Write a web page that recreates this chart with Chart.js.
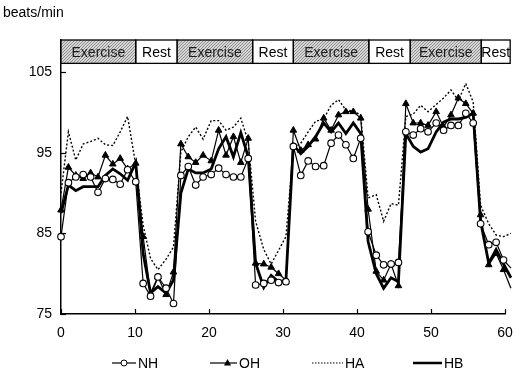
<!DOCTYPE html>
<html><head><meta charset="utf-8">
<script src="https://cdn.jsdelivr.net/npm/chart.js@4"></script>
<style>html,body{margin:0;padding:0;background:#fff}#wrap{width:529px;height:379px;position:relative}</style>
</head><body><div id="wrap"><canvas id="c" width="529" height="379"></canvas></div>
<script>
// ---- data ----
const minutes = [0,1,2,3,4,5,6,7,8,9,10.1,11.1,12.1,13.1,14.2,15.2,16.2,17.2,18.2,19.2,20.3,21.3,22.3,23.3,24.3,25.3,26.3,27.4,28.4,29.4,30.4,31.4,32.4,33.4,34.4,35.5,36.5,37.5,38.5,39.5,40.5,41.5,42.6,43.6,44.6,45.6,46.6,47.6,48.6,49.6,50.7,51.7,52.7,53.7,54.7,55.7,56.7,57.8,58.8,59.8,60.8];
const NH = [84.6,91.3,92.0,92.3,92.0,90.1,91.8,91.7,91.1,92.9,91.4,
  78.8,77.2,79.6,78.2,76.3,
  92.2,93.3,91.0,92.0,92.3,93.1,92.3,92.0,92.0,94.3,
  78.6,78.8,79.2,78.9,79.0,
  95.8,92.2,94.0,93.3,93.4,96.2,97.2,96.0,94.3,96.8,
  85.2,82.3,81.1,81.2,81.4,
  97.6,97.2,98.0,97.6,98.7,97.8,98.4,98.4,99.9,98.7,
  86.2,83.6,83.9,81.7,80.7];
const OH = [87.9,93.2,92.2,91.8,92.5,92.0,94.7,93.6,94.3,93.0,93.7,
  84.6,77.6,79.6,77.4,80.2,
  96.1,94.5,93.8,94.7,94.0,97.8,94.7,97.0,93.8,96.8,
  81.3,81.2,80.8,80.0,79.2,
  97.8,95.3,96.0,96.7,99.3,97.8,99.7,100.1,100.1,99.3,
  88.0,80.3,79.2,81.2,78.5,
  101.1,98.7,98.7,98.4,100.1,98.2,99.7,101.8,101.1,99.9,
  87.3,81.1,82.5,80.5,78.2];
const HA = [90.0,97.6,94.1,96.1,96.4,96.8,96.0,95.9,97.6,99.5,93.5,
  86.0,81.9,80.5,81.8,83.3,
  95.1,97.0,98.2,96.7,99.0,99.0,97.8,98.2,99.3,96.4,
  86.5,83.0,81.2,82.9,84.6,
  95.5,96.2,97.6,98.9,99.2,100.9,101.6,100.3,100.2,99.7,
  89.4,89.8,86.5,88.7,88.5,
  99.5,99.8,100.9,100.1,101.0,101.8,102.8,101.5,103.6,101.3,
  88.5,86.2,84.8,84.6,85.0];
const HB = [87.5,91.0,90.3,90.8,90.8,90.8,92.2,93.0,92.4,91.6,93.8,
  82.5,77.6,78.4,77.6,79.2,
  90.0,93.0,92.5,92.5,93.0,95.5,97.0,94.5,97.5,94.5,
  81.3,78.3,79.8,79.0,79.2,
  96.0,94.9,95.8,97.0,98.7,97.6,98.7,97.4,98.7,97.4,
  84.0,80.0,78.2,79.5,79.0,
  97.4,95.8,95.1,95.5,97.6,98.8,99.2,99.2,99.4,99.9,
  86.5,81.3,83.0,81.2,79.5];
const seriesNames = ['NH','OH','HA','HB'];
const phaseNames = ['Exercise','Rest','Exercise','Rest','Exercise','Rest','Exercise','Rest'];
const phaseBounds = [0,10.1,15.7,25.9,31.4,41.6,47.2,56.8,60.7];
const xTicks = [0,10,20,30,40,50,60];
const yTicks = [75,85,95,105];
const yUnit = 'beats/min';

const FONT = '"Liberation Sans", Arial, sans-serif';
const pts = arr => arr.map((v,i)=>({x:minutes[i], y:v}));

// stipple pattern for exercise boxes
function stipple(ctx){
  const t = document.createElement('canvas'); t.width = 3; t.height = 3;
  const g = t.getContext('2d');
  g.fillStyle = '#d6d6d6'; g.fillRect(0,0,3,3);
  g.fillStyle = '#8f8f8f'; g.fillRect(0,0,1,1); g.fillRect(2,1,1,1); g.fillRect(1,2,1,1);
  return ctx.createPattern(t,'repeat');
}

const overlay = {
  id:'overlay',
  afterDraw(chart){
    const ctx = chart.ctx, xs = chart.scales.x, ys = chart.scales.y, ca = chart.chartArea;
    ctx.save();
    // unit label
    ctx.fillStyle = '#000'; ctx.font = '14px ' + FONT; ctx.textBaseline = 'middle'; ctx.textAlign = 'left';
    ctx.fillText(yUnit, 3, 13);
    // inward ticks
    ctx.strokeStyle = '#000'; ctx.lineWidth = 1.2;
    xTicks.forEach(v=>{ const p = Math.round(xs.getPixelForValue(v))+0.5; ctx.beginPath(); ctx.moveTo(p, ca.bottom); ctx.lineTo(p, ca.bottom-5); ctx.stroke(); });
    yTicks.forEach(v=>{ const p = Math.round(ys.getPixelForValue(v))+0.5; ctx.beginPath(); ctx.moveTo(ca.left, p); ctx.lineTo(ca.left+5, p); ctx.stroke(); });
    // phase band
    const top = ca.top, bot = ys.getPixelForValue(106.1);
    const pat = stipple(ctx);
    for(let i=0;i<phaseNames.length;i++){
      const a = xs.getPixelForValue(phaseBounds[i]), b = xs.getPixelForValue(phaseBounds[i+1]);
      if(phaseNames[i]==='Exercise'){ ctx.fillStyle = pat; ctx.fillRect(a, top, b-a, bot-top); }
      ctx.strokeStyle = '#000'; ctx.lineWidth = 1.3; ctx.strokeRect(a, top, b-a, bot-top);
      ctx.fillStyle = phaseNames[i]==='Exercise' ? '#1a1a1a' : '#000';
      ctx.font = '14px ' + FONT; ctx.textAlign = 'center'; ctx.textBaseline = 'middle';
      ctx.fillText(phaseNames[i], (a+b)/2, (top+bot)/2 + 1);
    }
    // legend
    const ly = 363;
    const items = [
      {x:112, w:24, name:'NH', draw:(cx)=>{ ctx.beginPath(); ctx.arc(cx, ly, 3, 0, Math.PI*2); ctx.fillStyle='#fff'; ctx.fill(); ctx.lineWidth=1; ctx.strokeStyle='#000'; ctx.stroke(); }},
      {x:210, w:27, name:'OH', draw:(cx)=>{ ctx.beginPath(); ctx.moveTo(cx, ly-4); ctx.lineTo(cx+3.5, ly+2.5); ctx.lineTo(cx-3.5, ly+2.5); ctx.closePath(); ctx.fillStyle='#000'; ctx.fill(); }},
      {x:312, w:31, name:'HA', dash:[1.5,1.5], lw:1},
      {x:413, w:29, name:'HB', lw:2.5}
    ];
    items.forEach((it,i)=>{
      ctx.beginPath(); ctx.setLineDash(it.dash||[]); ctx.lineWidth = it.lw||1.2; ctx.strokeStyle='#000';
      ctx.moveTo(it.x, ly); ctx.lineTo(it.x+it.w, ly); ctx.stroke(); ctx.setLineDash([]);
      if(it.draw) it.draw(it.x + it.w/2 + (i===1?4:0));
      ctx.fillStyle='#000'; ctx.font='14px ' + FONT; ctx.textAlign='left'; ctx.textBaseline='middle';
      ctx.fillText(seriesNames[i], it.x+it.w+2, ly+1);
    });
    ctx.restore();
  }
};

new Chart(document.getElementById('c'), {
  type:'line',
  data:{ datasets:[
    {label:seriesNames[0], data:pts(NH), borderColor:'#000', borderWidth:1.2, pointStyle:'circle', pointRadius:3.3, pointBackgroundColor:'#fff', pointBorderColor:'#000', pointBorderWidth:1.1, tension:0, clip:false, order:1},
    {label:seriesNames[1], data:pts(OH), borderColor:'#000', borderWidth:1.2, pointStyle:'triangle', pointRadius:3.8, pointBackgroundColor:'#000', pointBorderColor:'#000', pointBorderWidth:1, tension:0, clip:false, order:2},
    {label:seriesNames[2], data:pts(HA), borderColor:'#000', borderWidth:1.4, borderDash:[2,2], pointRadius:0, tension:0, clip:false, order:4},
    {label:seriesNames[3], data:pts(HB), borderColor:'#000', borderWidth:2.8, pointRadius:0, tension:0, clip:false, order:3}
  ]},
  options:{
    responsive:false, animation:false, devicePixelRatio:1,
    layout:{padding:{left:0, right:24, top:40, bottom:35}},
    plugins:{legend:{display:false}, tooltip:{enabled:false}},
    scales:{
      x:{type:'linear', min:0, max:60,
        afterBuildTicks:s=>{ s.ticks = xTicks.map(v=>({value:v})); },
        ticks:{color:'#000', font:{size:14, family:FONT}, padding:11, maxRotation:0},
        grid:{display:false, drawTicks:false}, border:{color:'#000', width:1.5},
        afterFit:s=>{ s.height = 30; }},
      y:{min:75, max:109,
        afterBuildTicks:s=>{ s.ticks = yTicks.map(v=>({value:v})); },
        ticks:{color:'#000', font:{size:14, family:FONT}, padding:9},
        grid:{display:false, drawTicks:false}, border:{color:'#000', width:1.5},
        afterFit:s=>{ s.width = 61; }}
    }
  },
  plugins:[overlay]
});
</script>
</body></html>
